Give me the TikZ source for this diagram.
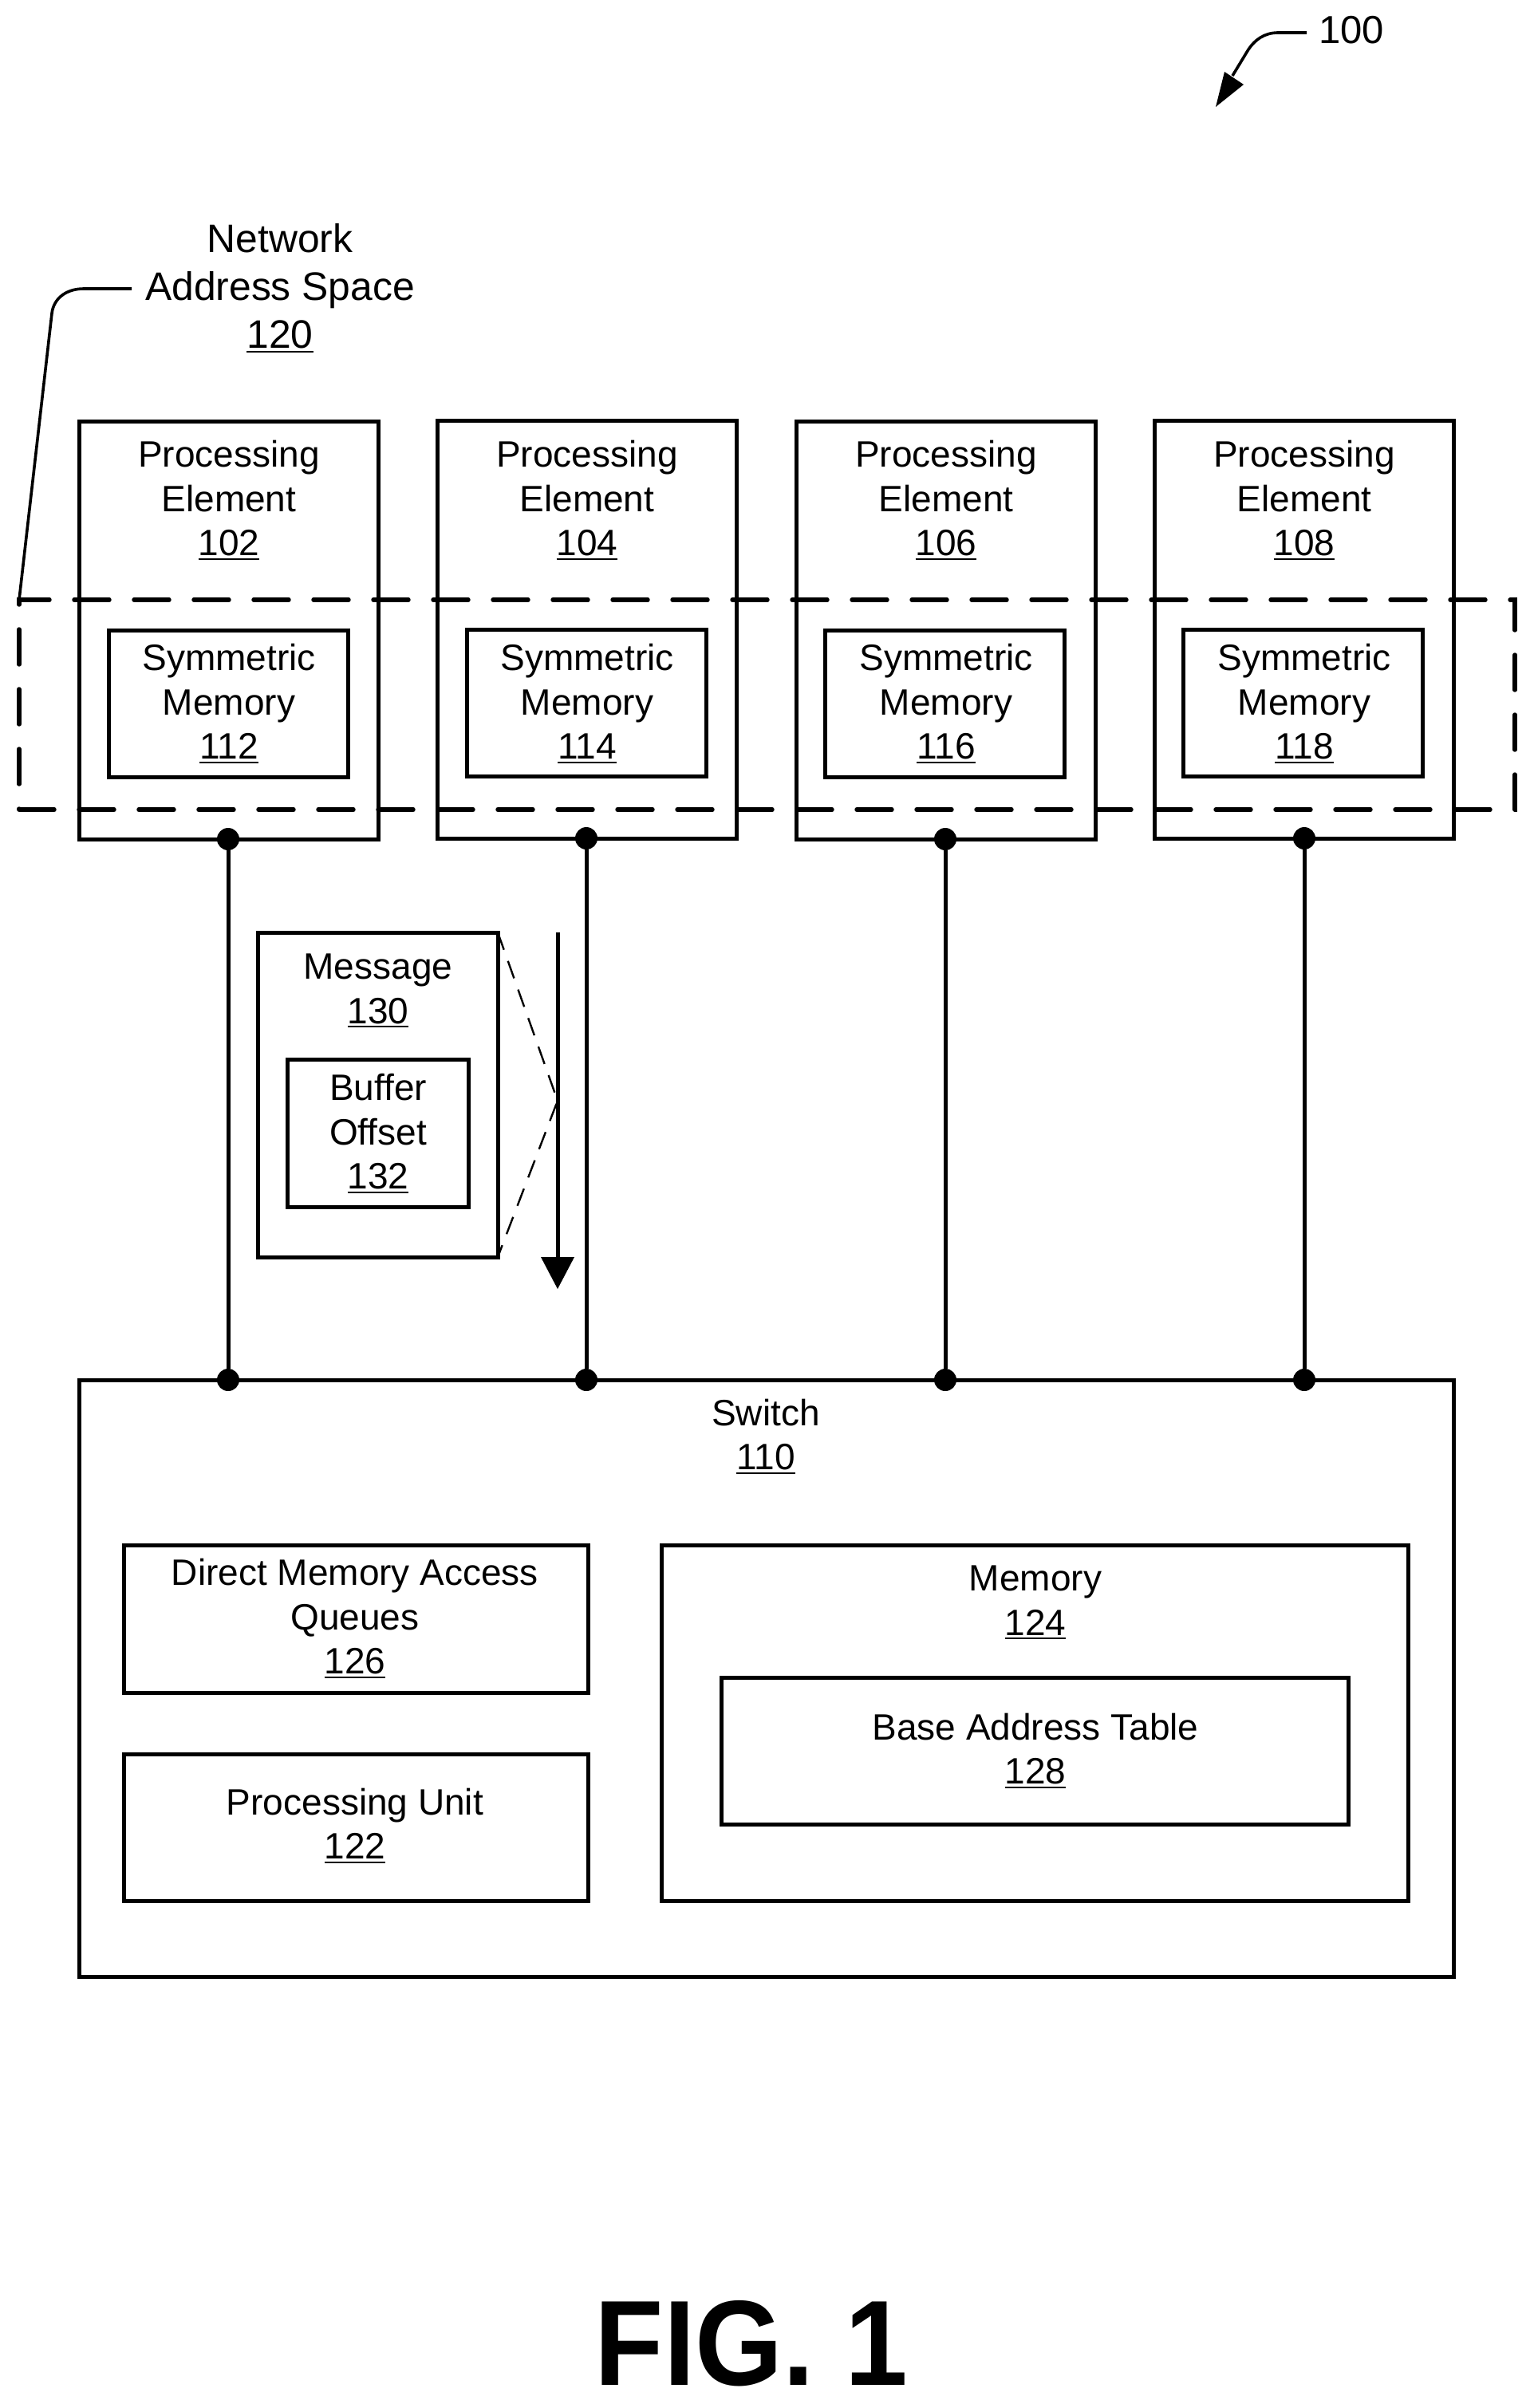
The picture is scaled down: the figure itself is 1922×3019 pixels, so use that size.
\documentclass[tikz,border=0pt]{standalone}
\usepackage{fontspec}
\setmainfont{Liberation Sans}
\newcommand{\boxn}[5]{\node[boxs,minimum width={(#4-#2)*0.5pt},minimum height={(#5-#3)*0.5pt}] (#1) at ({(#2+#4)/2-1},{(#3+#5)/2}) {};}
\newcommand{\ul}[1]{\setbox0\hbox{#1}\rlap{\rule[-2.5pt]{\wd0}{1pt}}\box0 }
\begin{document}
\begin{tikzpicture}[x=0.5pt,y=-0.5pt,
  boxs/.style={draw=black,line width=2.5pt,inner sep=0pt,outer sep=0pt,rectangle},
  lbl/.style={font=\fontsize{23pt}{27.7pt}\selectfont,align=center,inner sep=0pt,text=black},
  wire/.style={draw=black,line width=2.5pt},
  dotn/.style={circle,fill=black,draw=none,minimum size=14pt,inner sep=0pt,outer sep=0pt},
  lead/.style={draw=black,line width=1.8pt,line join=round}]
\useasboundingbox (0,0) rectangle (1922,3019);
\fill[white] (0,0) rectangle (1922,3019);

% processing elements
\boxn{pe1}{100}{528}{475}{1052}
\boxn{pe2}{549}{527}{924}{1051}
\boxn{pe3}{999}{528}{1374}{1052}
\boxn{pe4}{1448}{527}{1823}{1051}
\node[lbl] (pe1t) at (287,627) {Processing\\Element\\\ul{102}};
\node[lbl] (pe2t) at (736,627) {Processing\\Element\\\ul{104}};
\node[lbl] (pe3t) at (1186,627) {Processing\\Element\\\ul{106}};
\node[lbl] (pe4t) at (1635,627) {Processing\\Element\\\ul{108}};

% symmetric memories
\boxn{sm1}{137}{790}{437}{974}
\boxn{sm2}{586}{789}{886}{973}
\boxn{sm3}{1035}{790}{1335}{974}
\boxn{sm4}{1484}{789}{1784}{973}
\node[lbl] (sm1t) at (287,882) {Symmetric\\Memory\\\ul{112}};
\node[lbl] (sm2t) at (736,882) {Symmetric\\Memory\\\ul{114}};
\node[lbl] (sm3t) at (1186,882) {Symmetric\\Memory\\\ul{116}};
\node[lbl] (sm4t) at (1635,882) {Symmetric\\Memory\\\ul{118}};

% network address space
\draw[black,line width=2.7pt,line cap=round,dash pattern=on 22pt off 15.5pt]
  (24,1015) -- (1899,1015) -- (1899,752) -- (24,752) -- (24,1015);
\node[lbl,font=\fontsize{24.9pt}{30pt}\selectfont] (nast) at (351,361) {Network\\Address Space\\\ul{120}};
\coordinate (nasa) at (24,752);
\draw[lead] (165,362) -- (105,362) .. controls (82,362) and (67,375) .. (65,393) -- (nasa);

% switch
\boxn{sw}{100}{1730}{1823}{2478}
\node[lbl] (swt) at (960,1801) {Switch\\\ul{110}};
\boxn{dma}{156}{1937}{738}{2122}
\node[lbl] (dmat) at (445,2029) {Direct Memory Access\\Queues\\\ul{126}};
\boxn{pu}{156}{2199}{738}{2383}
\node[lbl] (put) at (445,2289) {Processing Unit\\\ul{122}};
\boxn{mem}{830}{1937}{1766}{2383}
\node[lbl] (memt) at (1298,2009) {Memory\\\ul{124}};
\boxn{bat}{905}{2103}{1691}{2287}
\node[lbl] (batt) at (1298,2195) {Base Address Table\\\ul{128}};

% wires
\node[dotn] (a1) at (286,1052) {};
\node[dotn] (a2) at (735,1051) {};
\node[dotn] (a3) at (1185,1052) {};
\node[dotn] (a4) at (1635,1051) {};
\node[dotn] (b1) at (286,1730) {};
\node[dotn] (b2) at (735,1730) {};
\node[dotn] (b3) at (1185,1730) {};
\node[dotn] (b4) at (1635,1730) {};
\draw[wire] (a1) -- (b1);
\draw[wire] (a2) -- (b2);
\draw[wire] (a3) -- (b3);
\draw[wire] (a4) -- (b4);

% message
\boxn{msg}{324}{1169}{625}{1576}
\node[lbl] (msgt) at (474,1242) {Message\\\ul{130}};
\boxn{buf}{361}{1328}{588}{1513}
\node[lbl] (buft) at (474,1421) {Buffer\\Offset\\\ul{132}};
\coordinate (fts) at (699,1169);
\coordinate (fte) at (699,1616);
\coordinate (ftm) at (699,1380);
\draw[black,line width=2.5pt] (fts) -- (699,1580);
\fill[black] (fte) -- (678,1576) -- (720,1576) -- cycle;
\draw[black,line width=1.2pt,dash pattern=on 11.5pt off 7.5pt] (msg.north east) -- (ftm) -- (msg.south east);

% reference 100
\node[lbl,font=\fontsize{24.5pt}{30pt}\selectfont] (r100) at (1694,38) {100};
\coordinate (r100a) at (1638,41);
\coordinate (r100t) at (1524,134);
\draw[lead] (r100a) -- (1602,41) .. controls (1585,41) and (1573,50) .. (1565,62) -- (1545,95);
\fill[black] (r100t) -- (1535,90) -- (1559,106) -- cycle;

% figure label
\node[font=\fontsize{76pt}{80pt}\selectfont\bfseries,inner sep=0pt,xscale=0.93] (fig) at (942,2938) {FIG. 1};
\end{tikzpicture}
\end{document}
